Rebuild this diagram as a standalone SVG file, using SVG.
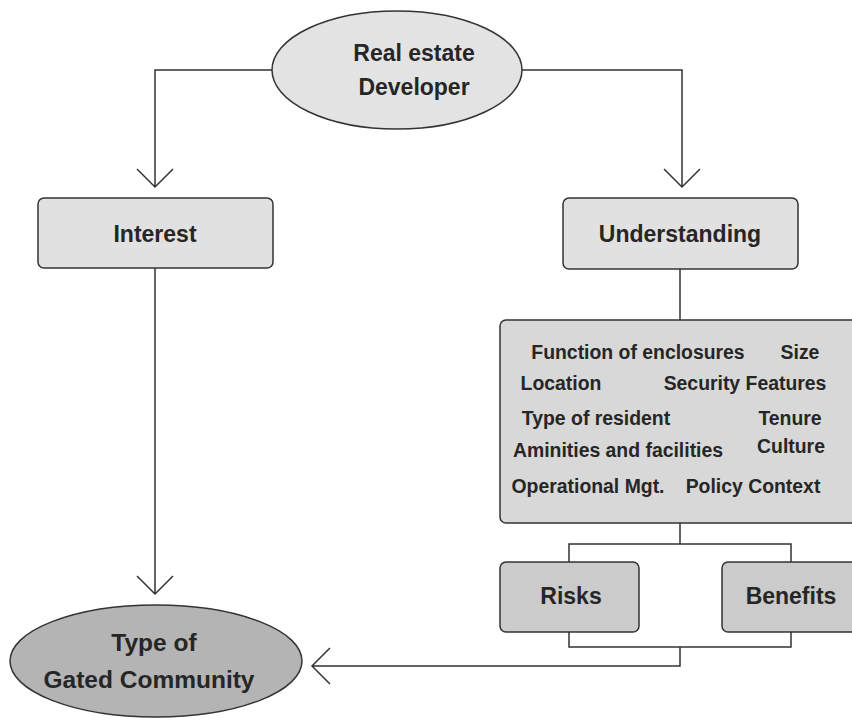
<svg xmlns="http://www.w3.org/2000/svg" width="852" height="721" viewBox="0 0 852 721">
<style>
text{font-family:"Liberation Sans",Arial,sans-serif;font-weight:bold;fill:#262626;text-anchor:middle}
.big{font-size:23px}
.g{font-size:24.5px}
.f{font-size:19.4px}
.n{stroke:#333;stroke-width:1.5}
.c{fill:none;stroke:#333;stroke-width:1.5}
</style>
<rect width="852" height="721" fill="#fff"/>
<g id="connectors">
<path class="c" d="M272,70 H155 V187 M137,169 L155,187 L173,169"/>
<path class="c" d="M522,70 H682 V187 M664,169 L682,187 L700,169"/>
<path class="c" d="M155,268 V594 M137,576 L155,594 L173,576"/>
<path class="c" d="M680,269 V320"/>
<path class="c" d="M680,523 V544 M569,562 V544 H791 V562"/>
<path class="c" d="M569,632 V647 H791 V632 M680,647 V666 H312 M330,648 L312,666 L330,684"/>
</g>
<g id="developer">
<ellipse class="n" cx="397" cy="70" rx="125" ry="59" fill="#e3e3e3"/>
<text class="big" x="414" y="61">Real estate</text>
<text class="big" x="414" y="95">Developer</text>
</g>
<g id="interest">
<rect class="n" x="38" y="198" width="235" height="70" rx="6" fill="#e1e1e1"/>
<text class="big" x="155" y="242">Interest</text>
</g>
<g id="understanding">
<rect class="n" x="563" y="198" width="235" height="71" rx="6" fill="#e1e1e1"/>
<text class="big" x="680" y="242">Understanding</text>
</g>
<g id="factors">
<rect class="n" x="500" y="320" width="360" height="203" rx="6" fill="#d8d8d8"/>
<text class="f" x="638" y="359">Function of enclosures</text>
<text class="f" x="800" y="359">Size</text>
<text class="f" x="561" y="390">Location</text>
<text class="f" x="745" y="390">Security Features</text>
<text class="f" x="596" y="425">Type of resident</text>
<text class="f" x="790" y="425">Tenure</text>
<text class="f" x="618" y="457">Aminities and facilities</text>
<text class="f" x="791" y="453">Culture</text>
<text class="f" x="588" y="493">Operational Mgt.</text>
<text class="f" x="753" y="493">Policy Context</text>
</g>
<g id="risks">
<rect class="n" x="500" y="562" width="139" height="70" rx="6" fill="#cbcbcb"/>
<text class="big" x="571" y="604">Risks</text>
</g>
<g id="benefits">
<rect class="n" x="722" y="562" width="140" height="70" rx="6" fill="#cbcbcb"/>
<text class="big" x="791" y="604">Benefits</text>
</g>
<g id="gated">
<ellipse class="n" cx="156" cy="661" rx="146" ry="56" fill="#b4b4b4"/>
<text class="g" x="154" y="651">Type of</text>
<text class="g" x="149" y="688">Gated Community</text>
</g>
</svg>
